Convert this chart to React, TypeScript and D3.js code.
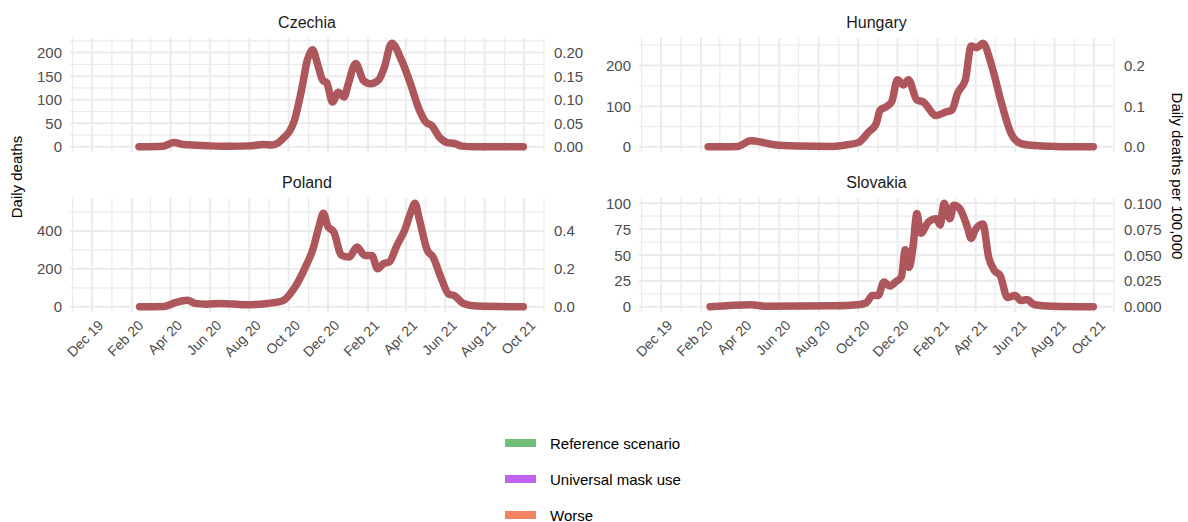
import React from "react";
import * as d3 from "d3";

// ---------- data ----------
const czechiaDates = ["2020-02-12","2020-03-20","2020-04-06","2020-04-21","2020-05-03","2020-06-01","2020-07-01","2020-08-01","2020-08-23","2020-09-05","2020-09-21","2020-10-10","2020-10-21","2020-10-30","2020-11-07","2020-11-16","2020-11-23","2020-11-29","2020-12-08","2020-12-17","2020-12-26","2021-01-01","2021-01-13","2021-01-25","2021-02-05","2021-02-17","2021-02-26","2021-03-10","2021-03-25","2021-04-08","2021-04-20","2021-05-02","2021-05-11","2021-05-23","2021-06-04","2021-06-15","2021-06-27","2021-07-18","2021-09-30"];
const czechiaDeaths = [0,1,9,5,4,2,1,2,5,4,16,56,120,184,206,170,141,136,95,116,106,131,177,141,134,141,167,220,184,134,84,52,45,20,9,7,1.5,0,0];

const hungaryDates = ["2020-02-12","2020-03-28","2020-04-18","2020-05-06","2020-05-24","2020-06-29","2020-08-22","2020-09-14","2020-10-02","2020-10-17","2020-10-29","2020-11-04","2020-11-13","2020-11-22","2020-12-01","2020-12-10","2020-12-18","2020-12-31","2021-01-09","2021-01-30","2021-02-14","2021-02-23","2021-03-04","2021-03-16","2021-03-25","2021-04-03","2021-04-12","2021-04-26","2021-05-11","2021-05-26","2021-06-10","2021-07-01","2021-08-03","2021-09-30"];
const hungaryDeaths = [0,1,15,11,5,2,1,5,11,36,57,90,98,111,165,152,165,115,111,77,86,90,132,165,248,244,255,198,107,32,8,3,1,0];

const polandDates = ["2020-02-13","2020-03-22","2020-04-09","2020-04-27","2020-05-09","2020-05-26","2020-06-19","2020-07-24","2020-08-29","2020-09-22","2020-10-09","2020-10-27","2020-11-08","2020-11-17","2020-11-24","2020-12-01","2020-12-10","2020-12-22","2021-01-03","2021-01-15","2021-01-27","2021-02-07","2021-02-16","2021-02-25","2021-03-06","2021-03-18","2021-03-30","2021-04-08","2021-04-15","2021-04-22","2021-05-04","2021-05-13","2021-05-25","2021-06-06","2021-06-15","2021-06-29","2021-07-20","2021-09-30"];
const polandDeaths = [0,2,23,35,18,14,18,11,18,32,94,209,307,422,493,422,395,271,262,315,271,271,200,227,236,324,404,493,546,457,298,262,156,68,59,18,4,0];

const slovakiaDates = ["2020-02-15","2020-04-18","2020-05-12","2020-08-22","2020-10-02","2020-10-14","2020-10-23","2020-11-01","2020-11-10","2020-11-19","2020-11-28","2020-12-07","2020-12-13","2020-12-19","2020-12-25","2020-12-31","2021-01-06","2021-01-18","2021-01-30","2021-02-05","2021-02-11","2021-02-20","2021-02-26","2021-03-07","2021-03-19","2021-03-25","2021-03-31","2021-04-12","2021-04-21","2021-04-30","2021-05-09","2021-05-20","2021-06-01","2021-06-10","2021-06-19","2021-07-01","2021-07-28","2021-09-30"];
const slovakiaDeaths = [0,2,0.5,1,2,4,11,11,24,20,24,29,55,38,58,90,71,82,85,79,100,85,98,95,77,66,74,80,48,35,30,9,11,6,7,2,0.5,0];

const czechiaTicks = [0, 50, 100, 150, 200];
const czechiaRight = ["0.00", "0.05", "0.10", "0.15", "0.20"];
const hungaryTicks = [0, 100, 200];
const hungaryRight = ["0.0", "0.1", "0.2"];
const polandTicks = [0, 200, 400];
const polandRight = ["0.0", "0.2", "0.4"];
const slovakiaTicks = [0, 25, 50, 75, 100];
const slovakiaRight = ["0.000", "0.025", "0.050", "0.075", "0.100"];

const xTickDates = ["2019-12-01","2020-02-01","2020-04-01","2020-06-01","2020-08-01","2020-10-01","2020-12-01","2021-02-01","2021-04-01","2021-06-01","2021-08-01","2021-10-01"];
const xTickLabels = ["Dec 19","Feb 20","Apr 20","Jun 20","Aug 20","Oct 20","Dec 20","Feb 21","Apr 21","Jun 21","Aug 21","Oct 21"];
const xMinorDates = ["2019-11-01","2020-01-01","2020-03-01","2020-05-01","2020-07-01","2020-09-01","2020-11-01","2021-01-01","2021-03-01","2021-05-01","2021-07-01","2021-09-01","2021-11-01"];
const xDomain = ["2019-10-28", "2021-11-01"];

const legendLabels = ["Reference scenario", "Universal mask use", "Worse"];
const legendColors = ["#70bf78", "#bf62f2", "#f28262"];

// ---------- layout ----------
const W = 1188, H = 522;
const FONT = "'Liberation Sans', Arial, sans-serif";
const LINE = "#ad565b";
const GRID = "#ebebeb";
const TICK_TEXT = "#4d4d4d";

const parse = d3.utcParse("%Y-%m-%d");

const panels = [
  { name: "Czechia", dates: czechiaDates, values: czechiaDeaths, ticks: czechiaTicks, right: czechiaRight, x0: 70, x1: 544, y0: 38, y1: 152, xlabels: false },
  { name: "Hungary", dates: hungaryDates, values: hungaryDeaths, ticks: hungaryTicks, right: hungaryRight, x0: 639, x1: 1114, y0: 38, y1: 152, xlabels: false },
  { name: "Poland", dates: polandDates, values: polandDeaths, ticks: polandTicks, right: polandRight, x0: 70, x1: 544, y0: 198, y1: 312, xlabels: true },
  { name: "Slovakia", dates: slovakiaDates, values: slovakiaDeaths, ticks: slovakiaTicks, right: slovakiaRight, x0: 639, x1: 1114, y0: 198, y1: 312, xlabels: true },
];

function Panel({ p }: { p: (typeof panels)[number] }) {
  const x = d3.scaleUtc().domain(xDomain.map((s) => parse(s)!)).range([p.x0, p.x1]);
  const maxV = d3.max(p.values)!;
  const y = d3.scaleLinear().domain([-0.05 * maxV, 1.05 * maxV]).range([p.y1, p.y0]);
  const step = p.ticks[1] - p.ticks[0];
  const minorY: number[] = [];
  for (let v = p.ticks[0] - step / 2; v <= y.domain()[1]; v += step) {
    if (v >= y.domain()[0]) minorY.push(v);
  }
  const pts = p.dates.map((d, i) => [parse(d)!, p.values[i]] as [Date, number]);
  const line = d3.line<[Date, number]>().x((d) => x(d[0])).y((d) => y(d[1])).curve(d3.curveMonotoneX);
  return (
    <g>
      {minorY.map((v, i) => (
        <line key={"my" + i} x1={p.x0} x2={p.x1} y1={y(v)} y2={y(v)} stroke={GRID} strokeWidth={1.2} />
      ))}
      {xMinorDates.map((d, i) => (
        <line key={"mx" + i} x1={x(parse(d)!)} x2={x(parse(d)!)} y1={p.y0} y2={p.y1} stroke={GRID} strokeWidth={1.2} />
      ))}
      {p.ticks.map((v, i) => (
        <line key={"gy" + i} x1={p.x0} x2={p.x1} y1={y(v)} y2={y(v)} stroke={GRID} strokeWidth={2} />
      ))}
      {xTickDates.map((d, i) => (
        <line key={"gx" + i} x1={x(parse(d)!)} x2={x(parse(d)!)} y1={p.y0} y2={p.y1} stroke={GRID} strokeWidth={2} />
      ))}
      <path d={line(pts)!} fill="none" stroke={LINE} strokeWidth={7.5} strokeLinejoin="round" strokeLinecap="round" />
      {p.ticks.map((v, i) => (
        <text key={"ly" + i} x={p.x0 - 8} y={y(v)} textAnchor="end" dominantBaseline="central" fontSize={15} fill={TICK_TEXT} fontFamily={FONT}>{v}</text>
      ))}
      {p.ticks.map((v, i) => (
        <text key={"ry" + i} x={p.x1 + 10} y={y(v)} textAnchor="start" dominantBaseline="central" fontSize={15} fill={TICK_TEXT} fontFamily={FONT}>{p.right[i]}</text>
      ))}
      <text x={(p.x0 + p.x1) / 2} y={p.y0 - 10} textAnchor="middle" fontSize={16} fill="#1a1a1a" fontFamily={FONT}>{p.name}</text>
      {p.xlabels && xTickDates.map((d, i) => {
        const tx = x(parse(d)!);
        const ty = p.y1 + 7;
        return (
          <text key={"xl" + i} transform={`translate(${tx + 5},${ty}) rotate(-45)`} textAnchor="end" dominantBaseline="hanging" fontSize={14} fill={TICK_TEXT} fontFamily={FONT}>{xTickLabels[i]}</text>
        );
      })}
    </g>
  );
}

export default function App() {
  return (
    <svg width={W} height={H} viewBox={`0 0 ${W} ${H}`} style={{ display: "block", position: "absolute", left: 0, top: 0, background: "#fff" }}>
      <rect width={W} height={H} fill="#fff" />
      {panels.map((p) => <Panel key={p.name} p={p} />)}
      <text transform="translate(22,177) rotate(-90)" textAnchor="middle" fontSize={15} fill="#000" fontFamily={FONT}>Daily deaths</text>
      <text transform="translate(1172,176) rotate(90)" textAnchor="middle" fontSize={15} fill="#000" fontFamily={FONT}>Daily deaths per 100,000</text>
      {legendLabels.map((l, i) => (
        <g key={l}>
          <rect x={505} y={439 + i * 36} width={31} height={8} fill={legendColors[i]} />
          <text x={550} y={443 + i * 36} dominantBaseline="central" fontSize={15} fill="#000" fontFamily={FONT}>{l}</text>
        </g>
      ))}
    </svg>
  );
}
